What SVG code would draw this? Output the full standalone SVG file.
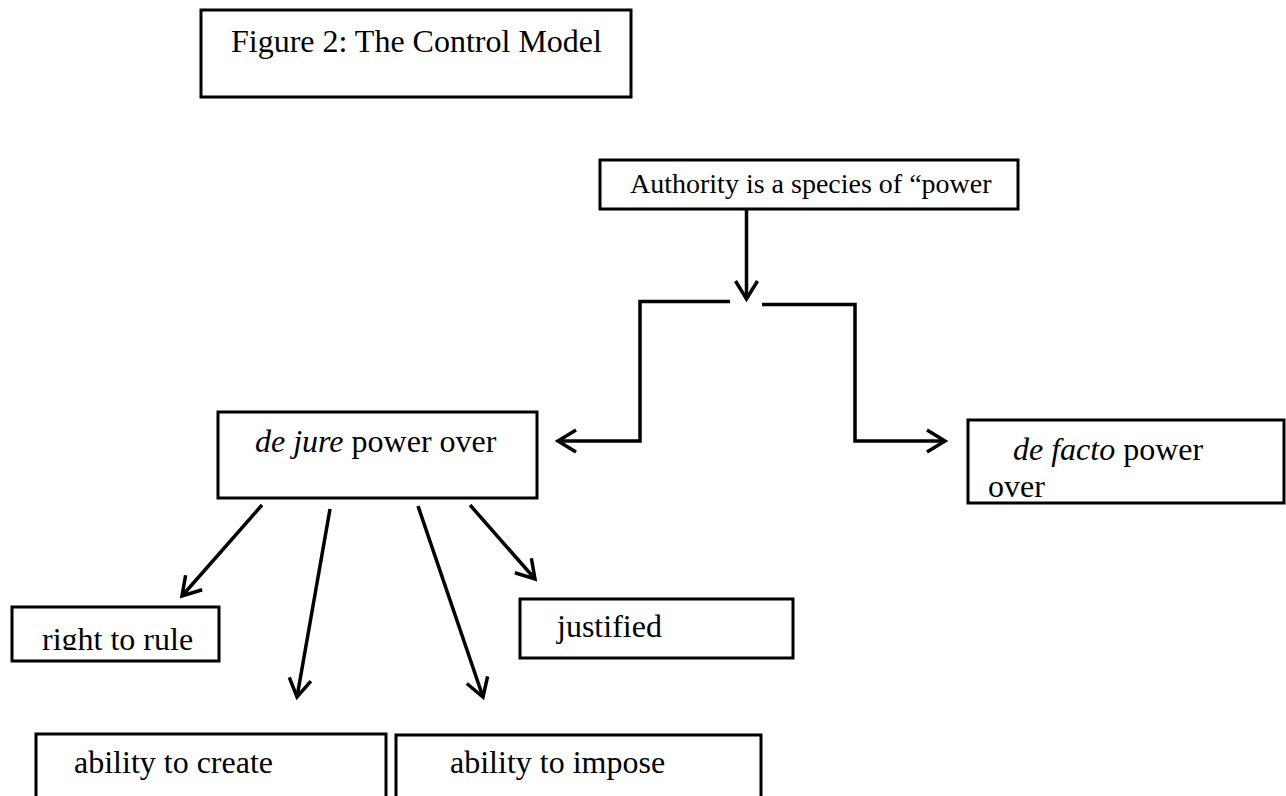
<svg xmlns="http://www.w3.org/2000/svg" width="1286" height="796" viewBox="0 0 1286 796">
<style>
.box{fill:#fff;stroke:#000;stroke-width:3}
.t{font-family:"Liberation Serif","Times New Roman",serif;font-size:32px;fill:#000}
.s{font-size:28px}
.i{font-style:italic}
.c{fill:none;stroke:#000;stroke-width:3.5}
</style>
<defs>
<marker id="ah" markerUnits="userSpaceOnUse" markerWidth="30" markerHeight="30" refX="0" refY="0" viewBox="-22 -15 27 30" orient="auto" overflow="visible">
<path d="M-18,-11 L0,0 L-18,11" fill="none" stroke="#000" stroke-width="3.5"/>
</marker>
<clipPath id="cpRule"><rect x="12" y="600" width="207" height="50"/></clipPath>
<clipPath id="cpFacto"><rect x="968" y="420" width="316" height="81"/></clipPath>
</defs>
<g id="title">
<rect class="box" x="201" y="10" width="430" height="87"/>
<text class="t" x="231" y="52">Figure 2: The Control Model</text>
</g>
<g id="authority">
<rect class="box" x="600" y="160" width="418" height="49"/>
<text class="t s" x="630" y="193">Authority is a species of “power</text>
</g>
<g id="dejure">
<rect class="box" x="218" y="412" width="319" height="86"/>
<text class="t" x="255" y="452"><tspan class="i">de jure</tspan> power over</text>
</g>
<g id="defacto">
<rect class="box" x="968" y="420" width="316" height="83"/>
<text class="t" clip-path="url(#cpFacto)"><tspan x="1013" y="460"><tspan class="i">de facto</tspan> power</tspan><tspan x="988" y="497">over</tspan></text>
</g>
<g id="right-to-rule">
<rect class="box" x="12" y="607" width="207" height="54"/>
<text class="t" x="42" y="650" clip-path="url(#cpRule)">right to rule</text>
</g>
<g id="justified">
<rect class="box" x="520" y="599" width="273" height="59"/>
<text class="t" x="557" y="637">justified</text>
</g>
<g id="ability-create">
<rect class="box" x="36" y="734" width="350" height="70"/>
<text class="t" x="74" y="773">ability to create</text>
</g>
<g id="ability-impose">
<rect class="box" x="396" y="735" width="365" height="70"/>
<text class="t" x="450" y="773">ability to impose</text>
</g>
<g id="connectors">
<line class="c" x1="746.5" y1="209" x2="746.5" y2="299" marker-end="url(#ah)"/>
<polyline class="c" points="730,301.5 640,301.5 640,441 558,441" marker-end="url(#ah)"/>
<polyline class="c" points="762,304.5 855,304.5 855,441 945,441" marker-end="url(#ah)"/>
<line class="c" x1="262" y1="505" x2="182" y2="596" marker-end="url(#ah)"/>
<line class="c" x1="330" y1="509" x2="297" y2="697" marker-end="url(#ah)"/>
<line class="c" x1="418" y1="506" x2="483" y2="697" marker-end="url(#ah)"/>
<line class="c" x1="470" y1="505" x2="535" y2="579" marker-end="url(#ah)"/>
</g>
</svg>
